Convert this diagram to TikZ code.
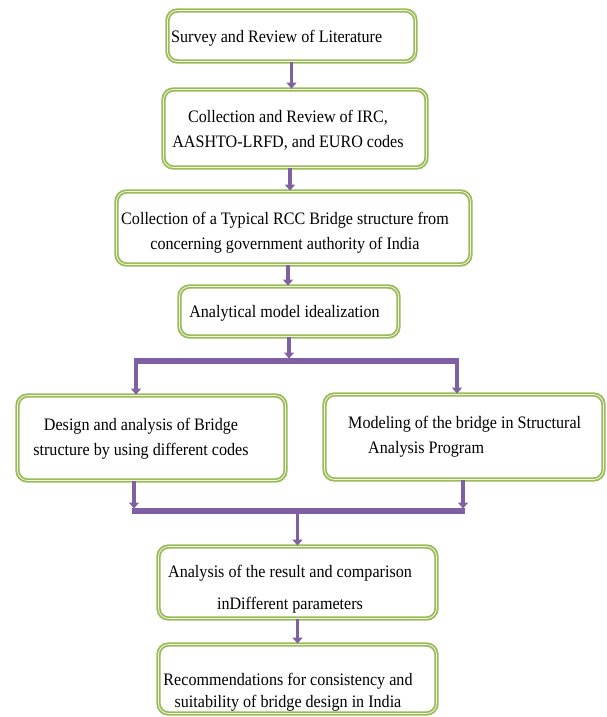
\documentclass[tikz,border=0pt]{standalone}
\usepackage{fontspec}
\setmainfont[FakeStretch=0.92]{Liberation Serif}
\usepackage{tikz}
\usetikzlibrary{arrows.meta}
\definecolor{boxgreen}{HTML}{9BBB59}
\definecolor{boxinner}{HTML}{EEF3E2}
\definecolor{flowpurple}{HTML}{7F60A2}
\tikzset{
  stepBox/.style={draw=boxgreen, line width=1.8pt, double=boxinner, double distance=0.8pt,
    rounded corners=10pt, fill=white, inner sep=0pt},
  stepText/.style={font=\fontsize{17.5}{25}\selectfont, inner sep=0pt, align=center},
  flowArrow/.style={draw=flowpurple, line width=3.5pt, -{Triangle[width=10pt,length=6pt]}},
  busLine/.style={draw=flowpurple, line width=5.5pt}
}

\begin{document}
\begin{tikzpicture}[x=1pt, y=-1pt]
  \useasboundingbox (0,0) rectangle (606,717);

  % boxes
  \node[stepBox, minimum width=248pt, minimum height=51pt] (b1) at (291.5,36) {};
  \node[stepBox, minimum width=263pt, minimum height=78pt] (b2) at (295,128.5) {};
  \node[stepBox, minimum width=354pt, minimum height=73pt] (b3) at (293.5,228) {};
  \node[stepBox, minimum width=219pt, minimum height=50pt] (b4) at (289,311.5) {};
  \node[stepBox, minimum width=268pt, minimum height=85pt] (b5) at (151.5,438) {};
  \node[stepBox, minimum width=279pt, minimum height=85pt] (b6) at (464,437) {};
  \node[stepBox, minimum width=278pt, minimum height=72pt] (b7) at (297.5,582.5) {};
  \node[stepBox, minimum width=278pt, minimum height=69pt] (b8) at (297.5,679) {};

  % texts
  \node[stepText, anchor=west] (t1) at (171,38) {Survey and Review of Literature};
  \node[stepText] (t2) at (288,130.5) {Collection and Review of IRC,\\AASHTO-LRFD, and EURO codes};
  \node[stepText] (t3) at (285,232.5) {Collection of a Typical RCC Bridge structure from\\concerning government authority of India};
  \node[stepText] (t4) at (284.5,313) {Analytical model idealization};
  \node[stepText] (t5) at (141,438.5) {Design and analysis of Bridge\\structure by using different codes};
  \node[stepText, anchor=west, align=left] (t6) at (348,437) {Modeling of the bridge in Structural\\\hspace*{20pt}Analysis Program};
  \node[stepText] (t7) at (290,589) {Analysis of the result and comparison\\[7pt]inDifferent parameters};
  \node[stepText] (t8) at (288,692.5) {Recommendations for consistency and\\[-3pt]suitability of bridge design in India};

  % connectors
  \draw[flowArrow] (b1.south) -- (b1.south |- b2.north);
  \draw[flowArrow] ([xshift=-5pt]b2.south) -- ([xshift=-5pt]b2.south |- b3.north);
  \draw[flowArrow] ([xshift=-5.5pt]b3.south) -- ([xshift=-5.5pt]b3.south |- b4.north);

  \coordinate (splitL) at (136,361);
  \coordinate (splitR) at (457,361);
  \draw[busLine] ([xshift=-2pt]splitL) -- ([xshift=2pt]splitR);
  \draw[flowArrow] (b4.south) -- ([yshift=2.5pt]b4.south |- splitL);
  \draw[flowArrow] (splitL) -- (splitL |- b5.north);
  \draw[flowArrow] (splitR) -- (splitR |- b6.north);

  \coordinate (joinL) at (134,511);
  \coordinate (joinR) at (463,511);
  \draw[busLine] ([xshift=-2pt]joinL) -- ([xshift=2pt]joinR);
  \draw[flowArrow] (joinL |- b5.south) -- ([yshift=2.5pt]joinL);
  \draw[flowArrow] (joinR |- b6.south) -- ([yshift=2.5pt]joinR);
  \draw[flowArrow] (b7.north |- joinL) -- (b7.north);
  \draw[flowArrow] (b7.south) -- (b8.north);
\end{tikzpicture}
\end{document}
